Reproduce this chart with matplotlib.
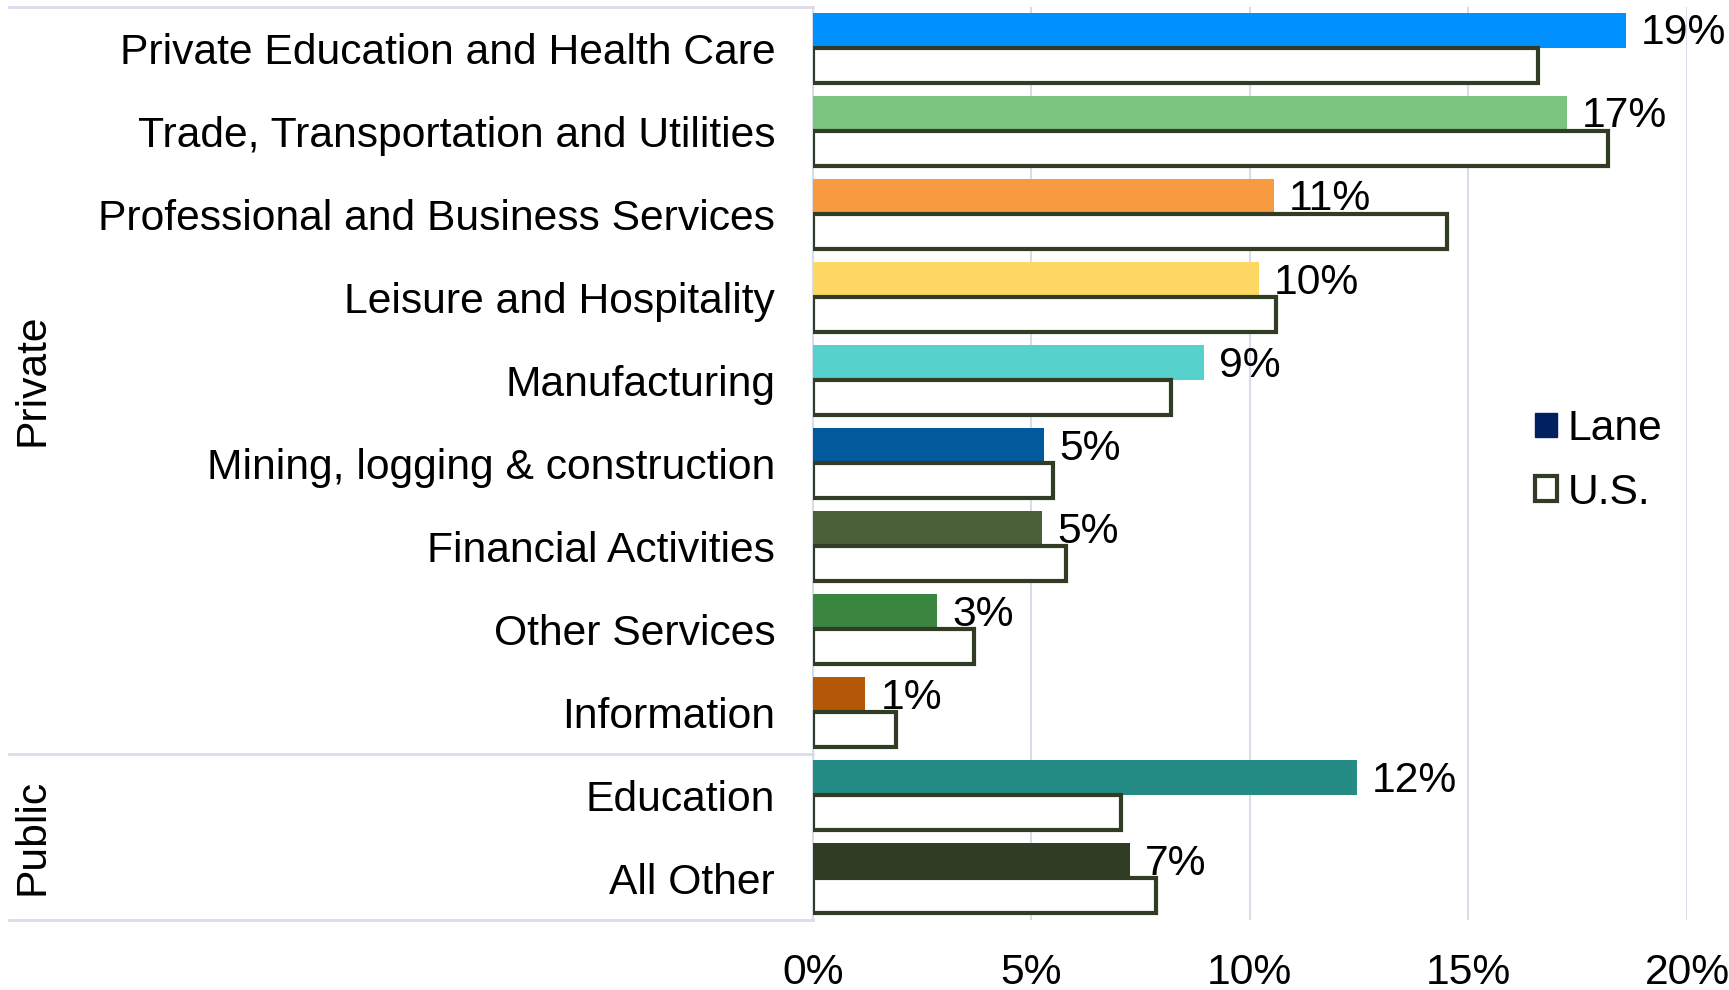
import matplotlib as mpl
import matplotlib.pyplot as plt
import numpy as np
from matplotlib.patches import Patch
from matplotlib.transforms import blended_transform_factory

# --- style ---
font_size = 30.7
grid_color = "#D9DDEA"
edge_color = "#303C23"
edge_width = 3

mpl.rcParams["font.family"] = ["Liberation Sans", "DejaVu Sans"]
mpl.rcParams["font.size"] = font_size

# --- data (share of employment, %) ---
categories = [
    "Private Education and Health Care",
    "Trade, Transportation and Utilities",
    "Professional and Business Services",
    "Leisure and Hospitality",
    "Manufacturing",
    "Mining, logging & construction",
    "Financial Activities",
    "Other Services",
    "Information",
    "Education",
    "All Other",
]
lane = [18.6, 17.25, 10.55, 10.2, 8.95, 5.3, 5.25, 2.85, 1.2, 12.45, 7.25]
us = [16.6, 18.2, 14.5, 10.6, 8.2, 5.5, 5.8, 3.7, 1.9, 7.05, 7.85]
lane_labels = ["19%", "17%", "11%", "10%", "9%", "5%", "5%", "3%", "1%", "12%", "7%"]
lane_colors = [
    "#0091FF", "#7BC47F", "#F79A40", "#FDD862", "#55D2CB", "#005A9C",
    "#4A6138", "#3A8540", "#B35806", "#248C84", "#303C23",
]
groups = ["Private", "Public"]
group_sizes = [9, 2]
x_ticks = [0, 5, 10, 15, 20]
x_tick_labels = ["0%", "5%", "10%", "15%", "20%"]

fig = plt.figure(figsize=(17.29, 9.9), dpi=100)
ax = fig.add_axes([0.470, 0.071, 0.5057, 0.9223])

y = np.arange(len(categories))
h = 0.42
ax.barh(y - h / 2, lane, height=h, color=lane_colors, zorder=3)
ax.barh(y + h / 2, us, height=h, facecolor="white", edgecolor=edge_color,
        linewidth=edge_width, zorder=3)

# value labels next to the Lane bars
for yi, v, lab in zip(y, lane, lane_labels):
    ax.annotate(lab, xy=(v, yi - h / 2), xytext=(11, -2), textcoords="offset points",
                ha="left", va="center", fontsize=font_size, zorder=4)

ax.set_xlim(0, 20)
ax.set_ylim(len(categories) - 0.5, -0.5)
ax.set_xticks(x_ticks)
ax.set_xticklabels(x_tick_labels)
ax.set_yticks(y)
ax.set_yticklabels(categories)
ax.tick_params(axis="both", length=0, labelsize=font_size)
ax.tick_params(axis="y", pad=27)
ax.tick_params(axis="x", pad=24)

ax.xaxis.grid(True, color=grid_color, linewidth=1.5, zorder=0)
ax.set_axisbelow(True)
for side in ["top", "right", "bottom"]:
    ax.spines[side].set_visible(False)
ax.spines["left"].set_color(grid_color)
ax.spines["left"].set_linewidth(1.5)

# group separators and group labels in the label area
trans = blended_transform_factory(fig.transFigure, ax.transData)
x_left, x_right = 0.005, 0.470
bounds = np.concatenate([[0], np.cumsum(group_sizes)]) - 0.5
for b in bounds:
    ax.plot([x_left, x_right], [b, b], color=grid_color, linewidth=2,
            transform=trans, clip_on=False)
for g, b0, b1 in zip(groups, bounds[:-1], bounds[1:]):
    ax.text(0.019, (b0 + b1) / 2, g, rotation=90, ha="center", va="center",
            fontsize=font_size, transform=trans)

handles = [
    Patch(facecolor="#002060", edgecolor="#002060", label="Lane"),
    Patch(facecolor="white", edgecolor=edge_color, linewidth=edge_width, label="U.S."),
]
fig.legend(handles=handles, loc="center left", bbox_to_anchor=(0.888, 0.5345),
           frameon=False, fontsize=font_size, handlelength=0.5, handleheight=0.5,
           handletextpad=0.25, labelspacing=0.56, borderpad=0, borderaxespad=0)

fig.savefig("out.png", dpi=100, facecolor="white")
plt.close(fig)
